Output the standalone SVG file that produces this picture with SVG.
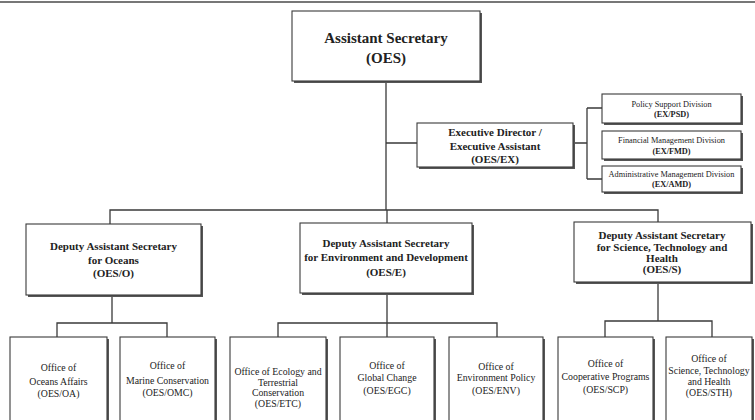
<svg xmlns="http://www.w3.org/2000/svg" width="755" height="420" viewBox="0 0 755 420">
<style>
.bx{fill:#fff;stroke:#3a3a3a;stroke-width:1.1}
.sh{fill:#555}
.ln{fill:none;stroke:#3a3a3a;stroke-width:1.3}
text{font-family:"Liberation Serif","Times New Roman",serif;fill:#222;text-anchor:middle}
.b{font-weight:bold}
.t15{font-size:15px}
.t11{font-size:11px}
.t9{font-size:9.8px}
.t8{font-size:8.3px}
</style>
<rect width="755" height="420" fill="#fff"/>
<line x1="0" y1="2" x2="755" y2="2" stroke="#777" stroke-width="2"/>
<g id="connectors">
<path class="ln" d="M386 81V210M110 224V210H658V222M387 210V223"/>
<path class="ln" d="M386 143H417M573 143H587M587 108V179M587 108H602M587 179H602"/>
<path class="ln" d="M112 295V323M57 337V323H167V337"/>
<path class="ln" d="M387 293V337M278 337V323H497V337"/>
<path class="ln" d="M658 282V321M605 337V321H712V337"/>
</g>
<g id="n-oes">
<rect class="sh" x="294" y="13" width="188" height="70"/>
<rect class="bx" x="292" y="11" width="188" height="70"/>
<text class="b t15" x="386" y="43">Assistant Secretary</text>
<text class="b t15" x="386" y="63">(OES)</text>
</g>
<g id="n-ex">
<rect class="sh" x="419" y="125" width="156" height="44"/>
<rect class="bx" x="417" y="123" width="156" height="44"/>
<text class="b t11" x="495" y="136">Executive Director /</text>
<text class="b t11" x="495" y="149.5">Executive Assistant</text>
<text class="b t11" x="495" y="163">(OES/EX)</text>
</g>
<g id="n-psd">
<rect class="sh" x="604" y="96" width="139" height="29"/>
<rect class="bx" x="602" y="94" width="139" height="29"/>
<text class="t8" x="671.5" y="106.5">Policy Support Division</text>
<text class="b t8" x="671.5" y="116.5">(EX/PSD)</text>
</g>
<g id="n-fmd">
<rect class="sh" x="604" y="133" width="139" height="28"/>
<rect class="bx" x="602" y="131" width="139" height="28"/>
<text class="t8" x="671.5" y="142.5">Financial Management Division</text>
<text class="b t8" x="671.5" y="154">(EX/FMD)</text>
</g>
<g id="n-amd">
<rect class="sh" x="604" y="168" width="139" height="26"/>
<rect class="bx" x="602" y="166" width="139" height="26"/>
<text class="t8" x="671.5" y="176.5">Administrative Management Division</text>
<text class="b t8" x="671.5" y="186.5">(EX/AMD)</text>
</g>
<g id="n-o">
<rect class="sh" x="28" y="226" width="175" height="71"/>
<rect class="bx" x="26" y="224" width="175" height="71"/>
<text class="b t11" x="113.5" y="250">Deputy Assistant Secretary</text>
<text class="b t11" x="113.5" y="264">for Oceans</text>
<text class="b t11" x="113.5" y="277">(OES/O)</text>
</g>
<g id="n-e">
<rect class="sh" x="302" y="225" width="172" height="70"/>
<rect class="bx" x="300" y="223" width="172" height="70"/>
<text class="b t11" x="386" y="247">Deputy Assistant Secretary</text>
<text class="b t11" x="386" y="261">for Environment and Development</text>
<text class="b t11" x="386" y="276">(OES/E)</text>
</g>
<g id="n-s">
<rect class="sh" x="576" y="224" width="177" height="60"/>
<rect class="bx" x="574" y="222" width="177" height="60"/>
<text class="b t11" x="662" y="239">Deputy Assistant Secretary</text>
<text class="b t11" x="662" y="251">for Science, Technology and</text>
<text class="b t11" x="662" y="262">Health</text>
<text class="b t11" x="662" y="273">(OES/S)</text>
</g>
<g id="n-oa">
<rect class="sh" x="12" y="339" width="97" height="100"/>
<rect class="bx" x="10" y="337" width="97" height="100"/>
<text class="t9" x="58.5" y="371">Office of</text>
<text class="t9" x="58.5" y="385">Oceans Affairs</text>
<text class="t9" x="58.5" y="397">(OES/OA)</text>
</g>
<g id="n-omc">
<rect class="sh" x="122" y="339" width="95" height="100"/>
<rect class="bx" x="120" y="337" width="95" height="100"/>
<text class="t9" x="167.5" y="369">Office of</text>
<text class="t9" x="167.5" y="384">Marine Conservation</text>
<text class="t9" x="167.5" y="396">(OES/OMC)</text>
</g>
<g id="n-etc">
<rect class="sh" x="232" y="339" width="96" height="100"/>
<rect class="bx" x="230" y="337" width="96" height="100"/>
<text class="t9" x="278" y="375">Office of Ecology  and</text>
<text class="t9" x="278" y="385.5">Terrestrial</text>
<text class="t9" x="278" y="396">Conservation</text>
<text class="t9" x="278" y="406.5">(OES/ETC)</text>
</g>
<g id="n-egc">
<rect class="sh" x="342" y="339" width="94" height="100"/>
<rect class="bx" x="340" y="337" width="94" height="100"/>
<text class="t9" x="387" y="369">Office of</text>
<text class="t9" x="387" y="381">Global Change</text>
<text class="t9" x="387" y="394">(OES/EGC)</text>
</g>
<g id="n-env">
<rect class="sh" x="451" y="339" width="94" height="100"/>
<rect class="bx" x="449" y="337" width="94" height="100"/>
<text class="t9" x="496" y="370">Office of</text>
<text class="t9" x="496" y="381">Environment Policy</text>
<text class="t9" x="496" y="394">(OES/ENV)</text>
</g>
<g id="n-scp">
<rect class="sh" x="560" y="339" width="95" height="100"/>
<rect class="bx" x="558" y="337" width="95" height="100"/>
<text class="t9" x="605.5" y="367">Office of</text>
<text class="t9" x="605.5" y="380">Cooperative Programs</text>
<text class="t9" x="605.5" y="393">(OES/SCP)</text>
</g>
<g id="n-sth">
<rect class="sh" x="668" y="339" width="86" height="100"/>
<rect class="bx" x="666" y="337" width="86" height="100"/>
<text class="t9" x="709" y="362">Office of</text>
<text class="t9" x="709" y="374">Science, Technology</text>
<text class="t9" x="709" y="385">and Health</text>
<text class="t9" x="709" y="396">(OES/STH)</text>
</g>
</svg>
